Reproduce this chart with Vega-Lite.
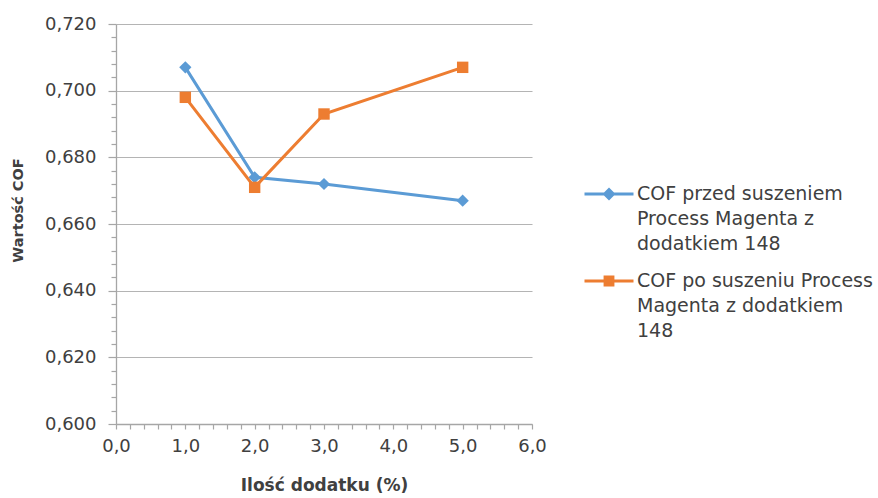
{
  "$schema": "https://vega.github.io/schema/vega-lite/v6.json",
  "width": 416,
  "height": 400,
  "autosize": {"type": "none"},
  "padding": {"left": 116, "top": 24, "right": 346, "bottom": 74},
  "background": "white",
  "config": {"view": {"stroke": null}, "font": "DejaVu Sans"},
  "data": {"values": [
    {"dodatek": 1, "cof": 0.707, "seria": "COF przed suszeniem Process Magenta z dodatkiem 148"},
    {"dodatek": 2, "cof": 0.674, "seria": "COF przed suszeniem Process Magenta z dodatkiem 148"},
    {"dodatek": 3, "cof": 0.672, "seria": "COF przed suszeniem Process Magenta z dodatkiem 148"},
    {"dodatek": 5, "cof": 0.667, "seria": "COF przed suszeniem Process Magenta z dodatkiem 148"},
    {"dodatek": 1, "cof": 0.698, "seria": "COF po suszeniu Process Magenta z dodatkiem 148"},
    {"dodatek": 2, "cof": 0.671, "seria": "COF po suszeniu Process Magenta z dodatkiem 148"},
    {"dodatek": 3, "cof": 0.693, "seria": "COF po suszeniu Process Magenta z dodatkiem 148"},
    {"dodatek": 5, "cof": 0.707, "seria": "COF po suszeniu Process Magenta z dodatkiem 148"}
  ]},
  "encoding": {
    "x": {
      "field": "dodatek", "type": "quantitative", "title": "Ilość dodatku (%)",
      "scale": {"domain": [0, 6], "nice": false, "zero": false},
      "axis": {
        "values": [0,0.2,0.4,0.6,0.8,1,1.2,1.4,1.6,1.8,2,2.2,2.4,2.6,2.8,3,3.2,3.4,3.6,3.8,4,4.2,4.4,4.6,4.8,5,5.2,5.4,5.6,5.8,6],
        "labelExpr": "abs(datum.value - round(datum.value)) < 0.001 ? replace(format(datum.value, '.1f'), '.', ',') : ''",
        "grid": false,
        "tickSize": 5,
        "tickColor": "#a6a6a6", "domainColor": "#a6a6a6", "domainWidth": 1.3, "tickWidth": 1.2,
        "labelFont": "DejaVu Sans", "labelFontSize": 18, "labelColor": "#404040", "labelPadding": 8, "labelFlush": false,
        "titleFont": "DejaVu Sans", "titleFontSize": 17, "titleFontWeight": "bold", "titleColor": "#404040", "titlePadding": 22
      }
    },
    "y": {
      "field": "cof", "type": "quantitative", "title": "Wartość COF",
      "scale": {"domain": [0.6, 0.72], "nice": false, "zero": false},
      "axis": {
        "values": [0.6,0.604,0.608,0.612,0.616,0.62,0.624,0.628,0.632,0.636,0.64,0.644,0.648,0.652,0.656,0.66,0.664,0.668,0.672,0.676,0.68,0.684,0.688,0.692,0.696,0.7,0.704,0.708,0.712,0.716,0.72],
        "labelExpr": "abs(datum.value*50 - round(datum.value*50)) < 0.001 ? replace(format(datum.value, '.3f'), '.', ',') : ''",
        "grid": true,
        "gridColor": "#b4b4b4", "gridWidth": 1.2,
        "gridOpacity": {"condition": {"test": "abs(datum.value*50 - round(datum.value*50)) < 0.001", "value": 1}, "value": 0},
        "tickSize": {"condition": {"test": "abs(datum.value*50 - round(datum.value*50)) < 0.001", "value": 8}, "value": 5},
        "tickColor": "#a6a6a6", "domainColor": "#a6a6a6", "domainWidth": 1.3, "tickWidth": 1.2,
        "labelFont": "DejaVu Sans", "labelFontSize": 18, "labelColor": "#404040", "labelPadding": 12, "labelFlush": false,
        "titleFont": "DejaVu Sans", "titleFontSize": 14.5, "titleFontWeight": "bold", "titleColor": "#404040", "titlePadding": 19, "titleY": 186
      }
    },
    "color": {
      "field": "seria", "type": "nominal",
      "scale": {"domain": ["COF przed suszeniem Process Magenta z dodatkiem 148", "COF po suszeniu Process Magenta z dodatkiem 148"], "range": ["#5B9BD5", "#ED7D31"]},
      "legend": {
        "orient": "none", "legendX": 467, "legendY": 144, "title": null, "padding": 0,
        "symbolSize": 2401, "symbolStrokeWidth": 3,
        "labelFont": "DejaVu Sans", "labelFontSize": 19, "labelColor": "#404040", "labelOffset": 2, "labelLimit": 400, "rowPadding": 1,
        "labelBaseline": "top",
        "labelExpr": "datum.label == 'COF przed suszeniem Process Magenta z dodatkiem 148' ? ['COF przed suszeniem', 'Process Magenta z', 'dodatkiem 148'] : ['COF po suszeniu Process', 'Magenta z dodatkiem', '148']",
        "encoding": {
          "symbols": {
            "shape": {"value": {"expr": "datum.value == 'COF przed suszeniem Process Magenta z dodatkiem 148' ? 'M-1,0L1,0M-0.18,0L0,-0.18L0.18,0L0,0.18Z' : 'M-1,0L1,0M-0.16,-0.16L0.16,-0.16L0.16,0.16L-0.16,0.16Z'"}},
            "fill": {"value": {"expr": "datum.value == 'COF przed suszeniem Process Magenta z dodatkiem 148' ? '#5B9BD5' : '#ED7D31'"}},
            "stroke": {"value": {"expr": "datum.value == 'COF przed suszeniem Process Magenta z dodatkiem 148' ? '#5B9BD5' : '#ED7D31'"}},
            "strokeWidth": {"value": 3},
            "opacity": {"value": 1}
          },
          "labels": {"dy": {"value": -9}, "lineHeight": {"value": 25}}
        }
      }
    }
  },
  "layer": [
    {"mark": {"type": "line", "strokeWidth": 3}},
    {
      "transform": [{"filter": "datum.seria == 'COF przed suszeniem Process Magenta z dodatkiem 148'"}],
      "mark": {"type": "point", "filled": true, "opacity": 1, "size": 150, "shape": "diamond"}
    },
    {
      "transform": [{"filter": "datum.seria == 'COF po suszeniu Process Magenta z dodatkiem 148'"}],
      "mark": {"type": "point", "filled": true, "opacity": 1, "size": 130, "shape": "square"}
    },
    {
      "data": {"values": [{"a": 1}]},
      "mark": {"type": "point", "filled": false, "shape": "M-1,1.5L0,0L1,1.5", "size": 256, "strokeWidth": 1.2, "opacity": 1},
      "encoding": {"x": {"datum": 0, "type": "quantitative"}, "y": {"datum": 0.72, "type": "quantitative"}, "color": {"value": "#a6a6a6"}}
    },
    {
      "data": {"values": [{"a": 1}]},
      "mark": {"type": "point", "filled": false, "shape": "M-1.5,-1L0,0L-1.5,1", "size": 256, "strokeWidth": 1.2, "opacity": 1},
      "encoding": {"x": {"datum": 6, "type": "quantitative"}, "y": {"datum": 0.6, "type": "quantitative"}, "color": {"value": "#a6a6a6"}}
    }
  ]
}
